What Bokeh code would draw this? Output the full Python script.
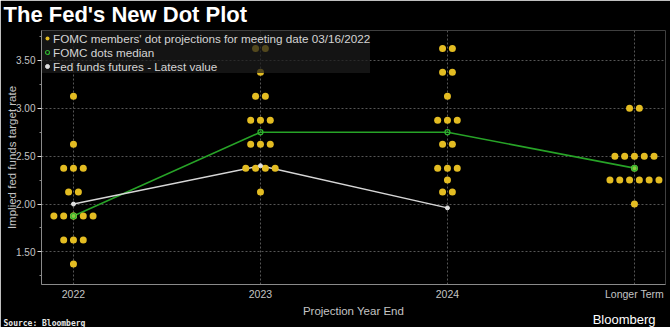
from bokeh.plotting import figure
from bokeh.models import (FixedTicker, Range1d, Legend, LegendItem, PrintfTickFormatter, Title)
from bokeh.embed import file_html
from bokeh.resources import INLINE

# ---------------- data ----------------
categories = ["2022", "2023", "2024", "Longer Term"]

dot_levels_2022 = [3.125, 2.625, 2.375, 2.125, 1.875, 1.625, 1.375]
dot_counts_2022 = [1, 1, 3, 2, 5, 3, 1]
dot_levels_2023 = [3.625, 3.375, 3.125, 2.875, 2.625, 2.375, 2.125]
dot_counts_2023 = [2, 1, 2, 3, 3, 4, 1]
dot_levels_2024 = [3.625, 3.375, 3.125, 2.875, 2.625, 2.375, 2.25, 2.125]
dot_counts_2024 = [2, 2, 1, 3, 2, 3, 1, 2]
dot_levels_longer = [3.0, 2.5, 2.25, 2.0]
dot_counts_longer = [2, 5, 6, 1]

median_values = [1.875, 2.75, 2.75, 2.375]
futures_values = [2.00, 2.40, 1.96]

y_ticks = [1.5, 2.0, 2.5, 3.0, 3.5]
y_minor_ticks = [1.25, 1.75, 2.25, 2.75, 3.25, 3.75]

legend_labels = ["FOMC members' dot projections for meeting date 03/16/2022",
                 "FOMC dots median",
                 "Fed funds futures - Latest value"]
title_text = "The Fed's New Dot Plot"
x_title = "Projection Year End"
y_title = "Implied fed funds target rate"
source_text = "Source: Bloomberg"
brand_text = "Bloomberg"

# ---------------- layout ----------------
W, H = 670, 327
LEFT, RIGHT, TOP, BOTTOM = 41, 5, 30, 40
FRAME_W = W - LEFT - RIGHT
X0, X1 = -0.171, 3.166
DOT_PX = 9.8
dx = DOT_PX * (X1 - X0) / FRAME_W

SANS = "Liberation Sans"
TXT = "#c4c4c4"
BG = "black"

p = figure(width=W, height=H, x_range=Range1d(X0, X1), y_range=Range1d(1.16, 3.812),
           output_backend="svg", toolbar_location=None,
           min_border_left=LEFT, min_border_right=RIGHT, min_border_top=TOP,
           min_border_bottom=BOTTOM)
p.background_fill_color = BG
p.border_fill_color = BG
p.outline_line_color = None

# title (above panel)
p.title.text = title_text
p.title.align = "left"
p.title.offset = 3 - LEFT
p.title.text_font = SANS
p.title.text_font_style = "bold"
p.title.text_font_size = "22px"
p.title.text_color = "white"
p.title.standoff = 3
p.title.vertical_align = "top"

xs, ys = [], []
for col, (levels, counts) in enumerate([(dot_levels_2022, dot_counts_2022),
                                        (dot_levels_2023, dot_counts_2023),
                                        (dot_levels_2024, dot_counts_2024),
                                        (dot_levels_longer, dot_counts_longer)]):
    for lv, n in zip(levels, counts):
        for k in range(n):
            xs.append(col + (k - (n - 1) / 2) * dx)
            ys.append(lv)

cols = list(range(len(categories)))
fcols = cols[:len(futures_values)]

p.line(cols, median_values, line_color="#27a327", line_width=1.6)
p.line(fcols, futures_values, line_color="#d6d6d6", line_width=1.5)

dots_r = p.scatter(xs, ys, size=7, fill_color="#e3bc22", line_color=None)
fut_r = p.scatter(fcols, futures_values, size=4, fill_color="#e0e0e0", line_color="#e0e0e0")
med_ends = [0, len(median_values) - 1]
p.scatter([cols[i] for i in med_ends], [median_values[i] for i in med_ends], size=7,
          fill_color="#8cc63f", line_color=None)
med_r = p.scatter(cols, median_values, size=5, fill_color=None, line_color="#2fb52f",
                  line_width=1.2)

p.xaxis.ticker = FixedTicker(ticks=cols)
p.xaxis.major_label_overrides = {c: t for c, t in zip(cols, categories)}
p.xaxis.major_tick_line_color = None
p.xaxis.major_tick_out = 0
p.xaxis.major_tick_in = 0
p.xaxis.minor_tick_line_color = None
p.xaxis.minor_tick_out = 0
p.xaxis.minor_tick_in = 0
p.xaxis.axis_line_color = "#8a8a8a"
p.xaxis.major_label_text_color = TXT
p.xaxis.major_label_text_font = SANS
p.xaxis.major_label_text_font_size = "10.5px"
p.xaxis.major_label_standoff = 3
p.xaxis.axis_label = x_title
p.xaxis.axis_label_text_font = SANS
p.xaxis.axis_label_text_font_style = "normal"
p.xaxis.axis_label_text_font_size = "11.5px"
p.xaxis.axis_label_text_color = TXT
p.xaxis.axis_label_standoff = 2

p.yaxis.ticker = FixedTicker(ticks=y_ticks, minor_ticks=y_minor_ticks)
p.yaxis.formatter = PrintfTickFormatter(format="%.2f")
p.yaxis.axis_line_color = "#8a8a8a"
p.yaxis.major_tick_line_color = "#dddddd"
p.yaxis.major_tick_out = 4
p.yaxis.major_tick_in = 0
p.yaxis.minor_tick_line_color = "#8a8a8a"
p.yaxis.minor_tick_out = 2
p.yaxis.minor_tick_in = 0
p.yaxis.major_label_text_color = TXT
p.yaxis.major_label_text_font = SANS
p.yaxis.major_label_text_font_size = "10px"
p.yaxis.major_label_standoff = 2
p.yaxis.axis_label = y_title
p.yaxis.axis_label_text_font = SANS
p.yaxis.axis_label_text_font_style = "normal"
p.yaxis.axis_label_text_font_size = "11.5px"
p.yaxis.axis_label_text_color = TXT
p.yaxis.axis_label_standoff = -5

p.xgrid.ticker = FixedTicker(ticks=cols)
p.ygrid.ticker = FixedTicker(ticks=y_ticks)
for g in (p.xgrid, p.ygrid):
    g.grid_line_color = "#555555"
    g.grid_line_dash = "2 2"
    g.grid_line_width = 1

legend = Legend(items=[LegendItem(label=legend_labels[0], renderers=[dots_r]),
                       LegendItem(label=legend_labels[1], renderers=[med_r]),
                       LegendItem(label=legend_labels[2], renderers=[fut_r])],
                location="top_left", margin=1, padding=4, spacing=0,
                label_height=14, glyph_height=14, glyph_width=10, label_standoff=1,
                background_fill_color="#1c1c1c", background_fill_alpha=0.72,
                border_line_color=None,
                label_text_color="#d4d4d4", label_text_font=SANS,
                label_text_font_size="11.7px")
p.add_layout(legend, "center")

# footer titles (below panel)
brand = Title(text=brand_text, align="right", offset=W - RIGHT - 650 - RIGHT,
              text_font=SANS, text_font_style="normal", text_font_size="13px",
              text_color="white", standoff=-17, vertical_align="middle")
source = Title(text=source_text, align="left", offset=3 - LEFT,
               text_font="DejaVu Sans Mono", text_font_style="bold", text_font_size="8px",
               text_color="#e6e6e6", standoff=-3, vertical_align="middle")
p.add_layout(brand, "below")
p.add_layout(source, "below")

open("out.html", "w").write(file_html(p, INLINE))
